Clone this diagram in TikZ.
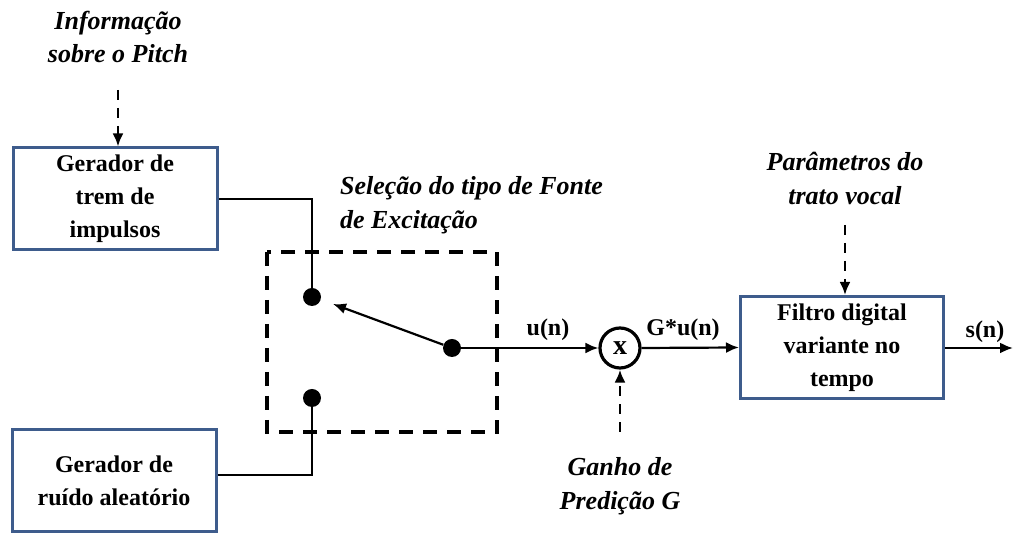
\documentclass[tikz,border=0pt]{standalone}
\usepackage{fontspec}
\setmainfont{Liberation Serif}
\usetikzlibrary{arrows.meta}
\definecolor{boxblue}{RGB}{62,92,140}
\begin{document}
\begin{tikzpicture}[x=0.5pt,y=-0.5pt,
  blk/.style={draw=boxblue,line width=1.5pt,minimum width=102pt,minimum height=51pt,align=center,
    font=\fontsize{12}{16.5}\selectfont\bfseries,inner sep=0pt},
  lbl/.style={align=center,font=\fontsize{13}{17}\selectfont\bfseries\itshape},
  sig/.style={font=\fontsize{12}{14}\selectfont\bfseries},
  wire/.style={line width=1.1pt},
  arr/.style={wire,-{Latex[length=6.5pt,width=5.5pt]}},
  darr/.style={arr,line width=1.4pt,dash pattern=on 5pt off 4pt},
  dotn/.style={circle,fill,inner sep=0pt,minimum size=9pt}]
\useasboundingbox (0,0) rectangle (1014,533);

% blocks
\node[blk] (b1) at (115,199) {Gerador de\\trem de\\impulsos};
\node[blk] (b3) at (114,481) {Gerador de\\ruído aleatório};
\node[blk,minimum width=101.5pt] (b2) at (842,347.5) {Filtro digital\\variante no\\tempo};

% switch
\draw[line width=1.7pt,dash pattern=on 7pt off 5pt] (267,252) rectangle (497,432);
\node[dotn] (d1) at (312,297) {};
\node[dotn] (d2) at (312,398) {};
\node[dotn] (d3) at (452,348) {};
\coordinate (sw) at (333,304);
\draw[arr] (d3) -- (sw);

% multiplier
\node[circle,draw,line width=1.6pt,minimum size=20pt,inner sep=0pt,font=\fontsize{14}{14}\selectfont\bfseries] (m) at (620,348) {x};

% labels
\node[lbl] (pitch) at (118,37) {Informação\\sobre o Pitch};
\node[lbl,align=left,anchor=west] (sel) at (333,205) {Seleção do tipo de Fonte\\de Excitação};
\node[lbl] (par) at (845,178) {Parâmetros do\\trato vocal};
\node[lbl] (gan) at (620,486) {Ganho de\\Predição G};
\node[sig] (un) at (548,330) {u(n)};
\node[sig] (gun) at (683,330) {G*u(n)};
\node[sig] (sn) at (985,332) {s(n)};

% control inputs
\coordinate (pin) at (118,90);
\coordinate (vin) at (845,225);
\coordinate (gin) at (620,432);
\draw[darr] (pin) -- (b1.north -| pin);
\draw[darr] (vin) -- (b2.north -| vin);
\draw[darr] (gin) -- (m.south);

% signal path
\draw[wire] (b1.east) -| (d1);
\draw[wire] ([yshift=3pt]b3.east) -| (d2);
\draw[arr] (d3) -- (m.west);
\draw[arr] (m.east) -- (b2.west);
\coordinate (out) at (1013,348);
\draw[arr] (b2.east |- out) -- (out);
\end{tikzpicture}
\end{document}
